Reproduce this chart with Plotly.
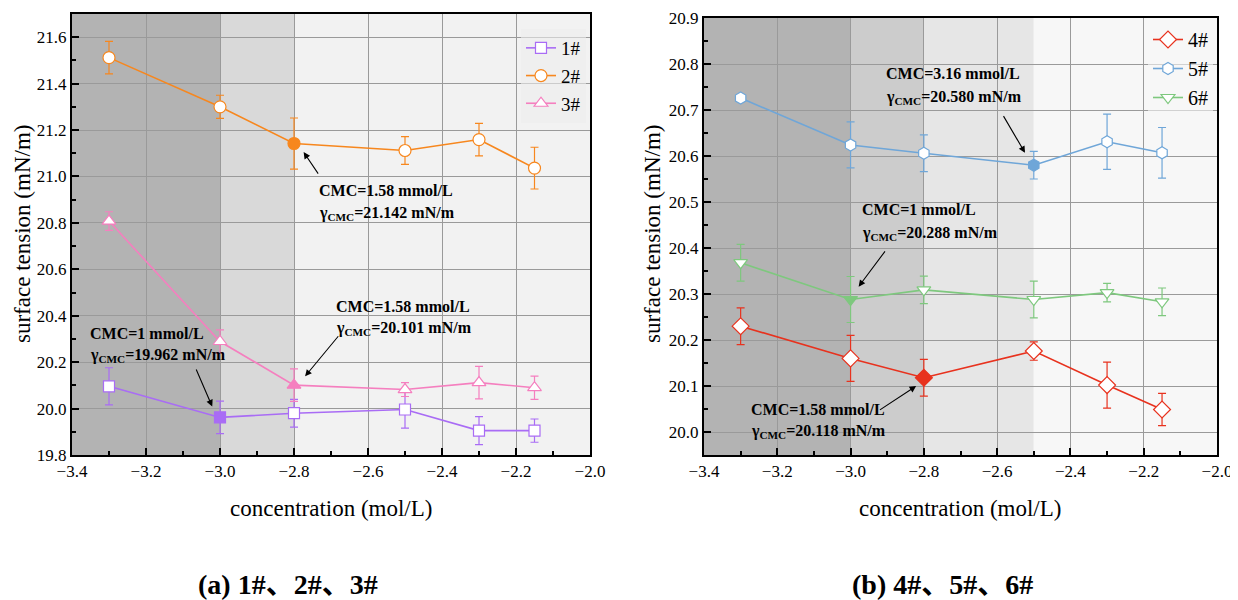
import plotly.graph_objects as go

# ---------------- data ----------------
x_conc = [-3.3, -3.0, -2.8, -2.5, -2.3, -2.15]

s1_y = [20.096, 19.962, 19.980, 19.996, 19.905, 19.905]
s1_e = [0.08, 0.07, 0.06, 0.08, 0.06, 0.05]
s2_y = [21.512, 21.300, 21.142, 21.112, 21.159, 21.036]
s2_e = [0.07, 0.05, 0.11, 0.06, 0.07, 0.09]
s3_y = [20.808, 20.289, 20.101, 20.082, 20.112, 20.090]
s3_e = [0.04, 0.05, 0.07, 0.03, 0.07, 0.05]

s4_y = [20.230, 20.160, 20.118, 20.176, 20.102, 20.049]
s4_e = [0.04, 0.05, 0.04, 0.02, 0.05, 0.035]
s5_y = [20.726, 20.624, 20.606, 20.580, 20.631, 20.607]
s5_e = [0.005, 0.05, 0.04, 0.03, 0.06, 0.055]
s6_y = [20.368, 20.288, 20.309, 20.288, 20.303, 20.283]
s6_e = [0.04, 0.05, 0.03, 0.04, 0.02, 0.03]

names_a = ["1#", "2#", "3#"]
names_b = ["4#", "5#", "6#"]
cmc_idx_a = [1, 2, 2]
cmc_idx_b = [2, 3, 1]

FONT = "Liberation Serif"
CJK = "Liberation Serif, Noto Sans CJK SC"

# page body has an 8px default margin: size the figure to fit the window
OFF = 8
W, H = 1238 - OFF, 600 - OFF


def px(X):
    return (X - OFF) / W


def py(Y):
    return 1 - (Y - OFF) / H


fig = go.Figure()


def add_series(name, y, e, color, symbol, size, cmc_i, xa, ya, legend):
    fills = ["white"] * len(y)
    fills[cmc_i] = color
    fig.add_trace(go.Scatter(
        x=x_conc, y=y, name=name, mode="lines+markers",
        xaxis=xa, yaxis=ya, legend=legend,
        line=dict(color=color, width=1.6),
        marker=dict(symbol=symbol, size=size, color=fills,
                    line=dict(color=color, width=1.2)),
        error_y=dict(type="data", array=e, visible=True, color=color,
                     thickness=1.2, width=4),
    ))


add_series(names_a[0], s1_y, s1_e, "#a96cf5", "square", 11, cmc_idx_a[0], "x", "y", "legend")
add_series(names_a[1], s2_y, s2_e, "#f7871e", "circle", 12, cmc_idx_a[1], "x", "y", "legend")
add_series(names_a[2], s3_y, s3_e, "#f57fbf", "triangle-up", 12, cmc_idx_a[2], "x", "y", "legend")
add_series(names_b[0], s4_y, s4_e, "#e8321e", "diamond", 13, cmc_idx_b[0], "x2", "y2", "legend2")
add_series(names_b[1], s5_y, s5_e, "#6fa6d8", "hexagon", 12, cmc_idx_b[1], "x2", "y2", "legend2")
add_series(names_b[2], s6_y, s6_e, "#7ec87e", "triangle-down", 12, cmc_idx_b[2], "x2", "y2", "legend2")

# ---------------- background zones ----------------
zones_a = [(-3.4, -3.0, "#b3b3b3"), (-3.0, -2.8, "#d9d9d9"), (-2.8, -2.0, "#f2f2f2")]
zones_b = [(-3.4, -3.0, "#b3b3b3"), (-3.0, -2.8, "#cccccc"), (-2.8, -2.5, "#e6e6e6"),
           (-2.5, -2.0, "#f7f7f7")]
for x0, x1, c in zones_a:
    fig.add_shape(type="rect", xref="x", yref="y domain", x0=x0, x1=x1, y0=0, y1=1,
                  fillcolor=c, line_width=0, layer="below")
for x0, x1, c in zones_b:
    fig.add_shape(type="rect", xref="x2", yref="y2 domain", x0=x0, x1=x1, y0=0, y1=1,
                  fillcolor=c, line_width=0, layer="below")

# ---------------- axes ----------------
common_x = dict(range=[-3.4, -2.0], dtick=0.2, tick0=-3.4, tickformat=".1f",
                showgrid=True, gridcolor="#9a9a9a", gridwidth=1.4, automargin=False,
                showline=True, linecolor="black", linewidth=2, mirror=True,
                ticks="inside", ticklen=7, tickwidth=1.5, tickcolor="black",
                ticklabeloverflow="allow",
                minor=dict(dtick=0.1, ticks="inside", ticklen=4, tickwidth=1.5,
                           tickcolor="black", showgrid=False),
                tickfont=dict(family=FONT, size=17, color="black"), zeroline=False)
common_y = dict(showgrid=True, gridcolor="#9a9a9a", gridwidth=1.4, automargin=False,
                showline=True, linecolor="black", linewidth=2, mirror=True,
                ticks="inside", ticklen=7, tickwidth=1.5, tickcolor="black",
                ticklabeloverflow="allow",
                tickfont=dict(family=FONT, size=17, color="black"), zeroline=False)

fig.update_layout(
    width=W, height=H,
    margin=dict(l=0, r=0, t=0, b=0, autoexpand=False),
    paper_bgcolor="white", plot_bgcolor="white",
    font=dict(family=FONT, color="black"),
    xaxis=dict(domain=[px(72), px(590)], anchor="y", **common_x),
    yaxis=dict(domain=[py(455), py(14)], anchor="x", range=[19.8, 21.7],
               dtick=0.2, tick0=19.8, tickformat=".1f",
               minor=dict(dtick=0.1, ticks="inside", ticklen=4, tickwidth=1.5,
                          tickcolor="black", showgrid=False), **common_y),
    xaxis2=dict(domain=[px(704), px(1217)], anchor="y2", **common_x),
    yaxis2=dict(domain=[py(455), py(18)], anchor="x2", range=[19.95, 20.9],
                dtick=0.1, tick0=20.0, tickformat=".1f",
                minor=dict(dtick=0.05, ticks="inside", ticklen=4, tickwidth=1.5,
                           tickcolor="black", showgrid=False), **common_y),
    legend=dict(x=px(586), y=py(29), xanchor="right", yanchor="top",
                bgcolor="rgba(236,236,236,0.6)", borderwidth=0,
                font=dict(family=FONT, size=19, color="black"),
                tracegroupgap=0, itemwidth=30),
    legend2=dict(x=px(1213), y=py(20), xanchor="right", yanchor="top",
                 bgcolor="rgba(247,247,247,0.6)", borderwidth=0,
                 font=dict(family=FONT, size=20, color="black"),
                 tracegroupgap=0, itemwidth=30),
    showlegend=True,
)

# ---------------- texts ----------------
ann = []
# axis titles
for xc, yc in [(22, 234), (652, 234)]:
    ann.append(dict(text="surface tension (mN/m)", xref="paper", yref="paper",
                    x=px(xc), y=py(yc), textangle=-90, showarrow=False,
                    xanchor="center", yanchor="middle",
                    font=dict(family=FONT, size=23, color="black")))
for xc in [331, 960]:
    ann.append(dict(text="concentration (mol/L)", xref="paper", yref="paper",
                    x=px(xc), y=py(508), showarrow=False,
                    xanchor="center", yanchor="middle",
                    font=dict(family=FONT, size=23, color="black")))
# panel captions
ann.append(dict(text="<b>(a) 1#、2#、3#</b>", xref="paper", yref="paper",
                x=px(288), y=py(584), showarrow=False,
                xanchor="center", yanchor="middle",
                font=dict(family=CJK, size=28, color="black")))
ann.append(dict(text="<b>(b) 4#、5#、6#</b>", xref="paper", yref="paper",
                x=px(942), y=py(584), showarrow=False,
                xanchor="center", yanchor="middle",
                font=dict(family=CJK, size=28, color="black")))

# CMC labels: (xref, yref, left x, y line1, y line2, cmc text, gamma text)
labels = [
    ("x", "y", -2.737, 20.940, 20.839, "CMC=1.58 mmol/L", "21.142"),
    ("x", "y", -2.692, 20.440, 20.347, "CMC=1.58 mmol/L", "20.101"),
    ("x", "y", -3.356, 20.325, 20.227, "CMC=1 mmol/L", "19.962"),
    ("x2", "y2", -2.910, 20.779, 20.728, "CMC=3.16 mmol/L", "20.580"),
    ("x2", "y2", -2.974, 20.483, 20.432, "CMC=1 mmol/L", "20.288"),
    ("x2", "y2", -3.278, 20.049, 20.002, "CMC=1.58 mmol/L", "20.118"),
]
for xr, yr, xl, y1, y2, t1, g in labels:
    ann.append(dict(text="<b>" + t1 + "</b>", xref=xr, yref=yr, x=xl, y=y1,
                    xanchor="left", yanchor="middle", showarrow=False,
                    font=dict(family=FONT, size=16, color="black")))
    ann.append(dict(text="<b>γ<sub>CMC</sub>=" + g + " mN/m</b>", xref=xr, yref=yr,
                    x=xl, y=y2, xanchor="left", yanchor="middle", showarrow=False,
                    font=dict(family=FONT, size=16, color="black")))

# arrows: (xref, yref, head x, head y, tail x, tail y)
arrows = [
    ("x", "y", -2.774, 21.105, -2.732, 21.006),
    ("x", "y", -2.770, 20.139, -2.677, 20.318),
    ("x", "y", -3.021, 20.009, -3.066, 20.175),
    ("x2", "y2", -2.524, 20.607, -2.585, 20.690),
    ("x2", "y2", -2.978, 20.316, -2.903, 20.396),
    ("x2", "y2", -2.821, 20.100, -2.924, 20.046),
]
for xr, yr, hx, hy, tx, ty in arrows:
    ann.append(dict(text="", xref=xr, yref=yr, axref=xr, ayref=yr,
                    x=hx, y=hy, ax=tx, ay=ty, showarrow=True,
                    arrowhead=2, arrowsize=1.2, arrowwidth=1.1, arrowcolor="black"))

fig.update_layout(annotations=ann)

fig.write_html("out.html")
